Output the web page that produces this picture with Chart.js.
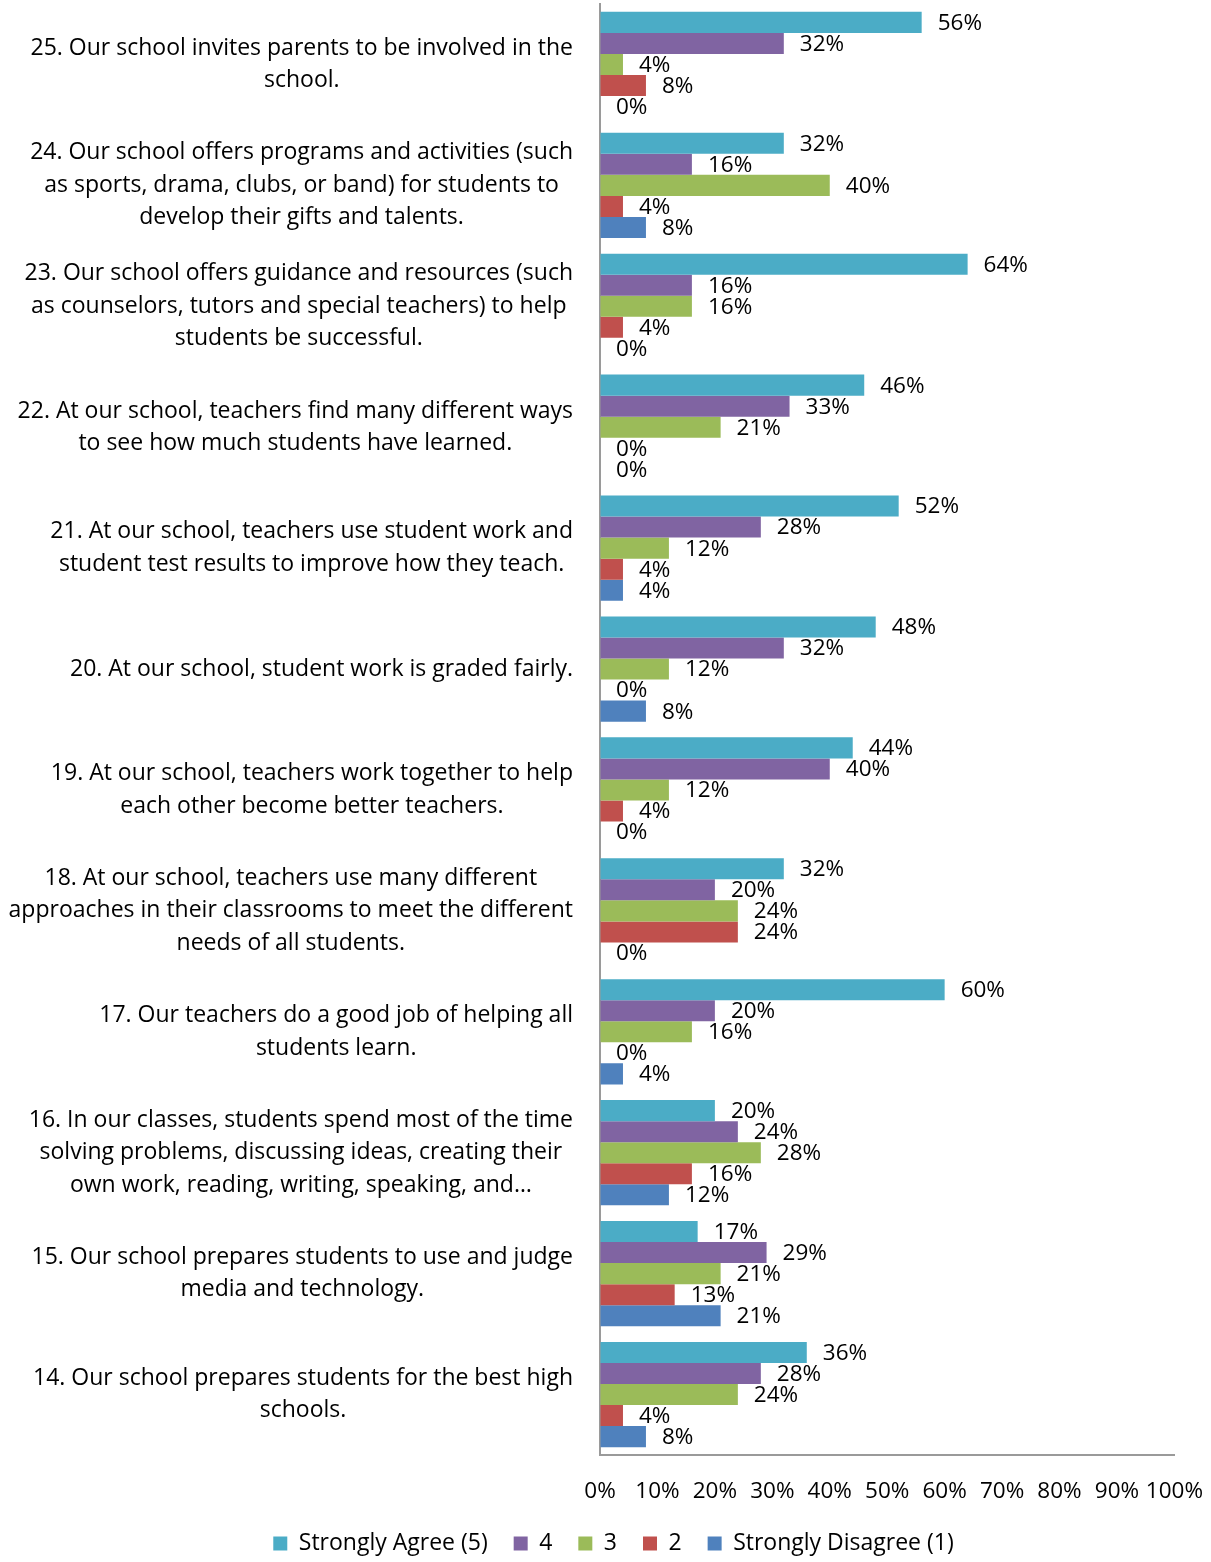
<!DOCTYPE html>
<html>
<head>
<meta charset="utf-8">
<script src="https://cdn.jsdelivr.net/npm/chart.js@4/dist/chart.umd.min.js"></script>
<style>
  html, body { margin: 0; padding: 0; background: #fff; }
  #wrap { width: 1211px; height: 1562px; }
</style>
</head>
<body>
<div id="wrap"><canvas id="chart"></canvas></div>
<script>
// questions, top to bottom (already wrapped like the original)
const questions = [
    ["25. Our school invites parents to be involved in the", "school."],
    ["24. Our school offers programs and activities (such", "as sports, drama, clubs, or band) for students to", "develop their gifts and talents."],
    ["23. Our school offers guidance and resources (such", "as counselors, tutors and special teachers) to help", "students be successful."],
    ["22. At our school, teachers find many different ways", "to see how much students have learned."],
    ["21. At our school, teachers use student work and", "student test results to improve how they teach."],
    ["20. At our school, student work is graded fairly."],
    ["19. At our school, teachers work together to help", "each other become better teachers."],
    ["18. At our school, teachers use many different", "approaches in their classrooms to meet the different", "needs of all students."],
    ["17. Our teachers do a good job of helping all", "students learn."],
    ["16. In our classes, students spend most of the time", "solving problems, discussing ideas, creating their", "own work, reading, writing, speaking, and…"],
    ["15. Our school prepares students to use and judge", "media and technology."],
    ["14. Our school prepares students for the best high", "schools."]
];

const seriesNames = ["Strongly Agree (5)", "4", "3", "2", "Strongly Disagree (1)"];

// percentages per series, same order as questions
const agree5   = [56, 32, 64, 46, 52, 48, 44, 32, 60, 20, 17, 36];
const rating4  = [32, 16, 16, 33, 28, 32, 40, 20, 20, 24, 29, 28];
const rating3  = [4, 40, 16, 21, 12, 12, 12, 24, 16, 28, 21, 24];
const rating2  = [8, 4, 4, 0, 4, 0, 4, 24, 0, 16, 13, 4];
const disagree1 = [0, 8, 0, 0, 4, 8, 0, 0, 4, 12, 21, 8];

const xTicks = [0, 10, 20, 30, 40, 50, 60, 70, 80, 90, 100];

const colors = ["#4BACC6", "#8064A2", "#9BBB59", "#C0504D", "#4F81BD"];
const FONT = "'Open Sans', sans-serif";

const seriesData = [agree5, rating4, rating3, rating2, disagree1];

// value labels next to each bar
const valueLabels = {
    id: "valueLabels",
    afterDatasetsDraw(chart) {
        const ctx = chart.ctx;
        ctx.save();
        ctx.font = "22.5px " + FONT;
        ctx.fillStyle = "#000";
        ctx.textAlign = "left";
        ctx.textBaseline = "middle";
        chart.data.datasets.forEach((ds, i) => {
            chart.getDatasetMeta(i).data.forEach((bar, j) => {
                ctx.fillText(ds.data[j] + "%", bar.x + 16, bar.y + 1);
            });
        });
        ctx.restore();
    }
};

// question text: block right aligned to the axis, lines centred in it
const questionLabels = {
    id: "questionLabels",
    afterDraw(chart) {
        const ctx = chart.ctx;
        const y = chart.scales.y;
        const lineH = 32.5;
        ctx.save();
        ctx.font = "23px " + FONT;
        ctx.fillStyle = "#000";
        ctx.textAlign = "center";
        ctx.textBaseline = "middle";
        questions.forEach((lines, i) => {
            const w = Math.max(...lines.map(l => ctx.measureText(l).width));
            const cx = 573 - w / 2;
            const cy = y.getPixelForTick(i);
            lines.forEach((l, k) => {
                ctx.fillText(l, cx, cy + (k - (lines.length - 1) / 2) * lineH);
            });
        });
        ctx.restore();
    }
};

// pull the legend a little closer to the axis labels
const legendNudge = {
    id: "legendNudge",
    afterLayout(chart) {
        if (chart.legend) {
            chart.legend.top -= 7;
            chart.legend.bottom -= 7;
            chart.legend.left += 8;
            chart.legend.right += 8;
        }
    }
};

new Chart(document.getElementById("chart"), {
    type: "bar",
    data: {
        labels: questions,
        datasets: seriesData.map((d, i) => ({
            label: seriesNames[i],
            data: d,
            backgroundColor: colors[i],
            borderWidth: 0,
            barPercentage: 1,
            categoryPercentage: 0.87
        }))
    },
    options: {
        indexAxis: "y",
        responsive: true,
        maintainAspectRatio: false,
        animation: false,
        layout: { padding: { top: 4, right: 0, left: 0, bottom: -10 } },
        scales: {
            x: {
                min: 0,
                max: 100,
                afterBuildTicks(scale) {
                    scale.ticks = xTicks.map(v => ({ value: v }));
                },
                // invisible tick marks only to push the labels down
                grid: { display: true, drawOnChartArea: false, drawTicks: true, tickLength: 15, color: "rgba(0,0,0,0)" },
                border: { display: true, color: "#9A9A9A", width: 2 },
                ticks: {
                    padding: 8,
                    minRotation: 0,
                    maxRotation: 0,
                    autoSkip: false,
                    color: "#000",
                    font: { family: FONT, size: 22.5 },
                    callback: v => v + "%"
                }
            },
            y: {
                grid: { display: false, drawTicks: false },
                border: { display: true, color: "#9A9A9A", width: 2 },
                ticks: { display: false },
                afterFit(scale) { scale.width = 600; }
            }
        },
        plugins: {
            tooltip: { enabled: false },
            legend: {
                position: "bottom",
                labels: {
                    color: "#000",
                    boxWidth: 14,
                    boxHeight: 14,
                    padding: 26,
                    font: { family: FONT, size: 23 }
                }
            }
        }
    },
    plugins: [valueLabels, questionLabels, legendNudge]
});
</script>
</body>
</html>
